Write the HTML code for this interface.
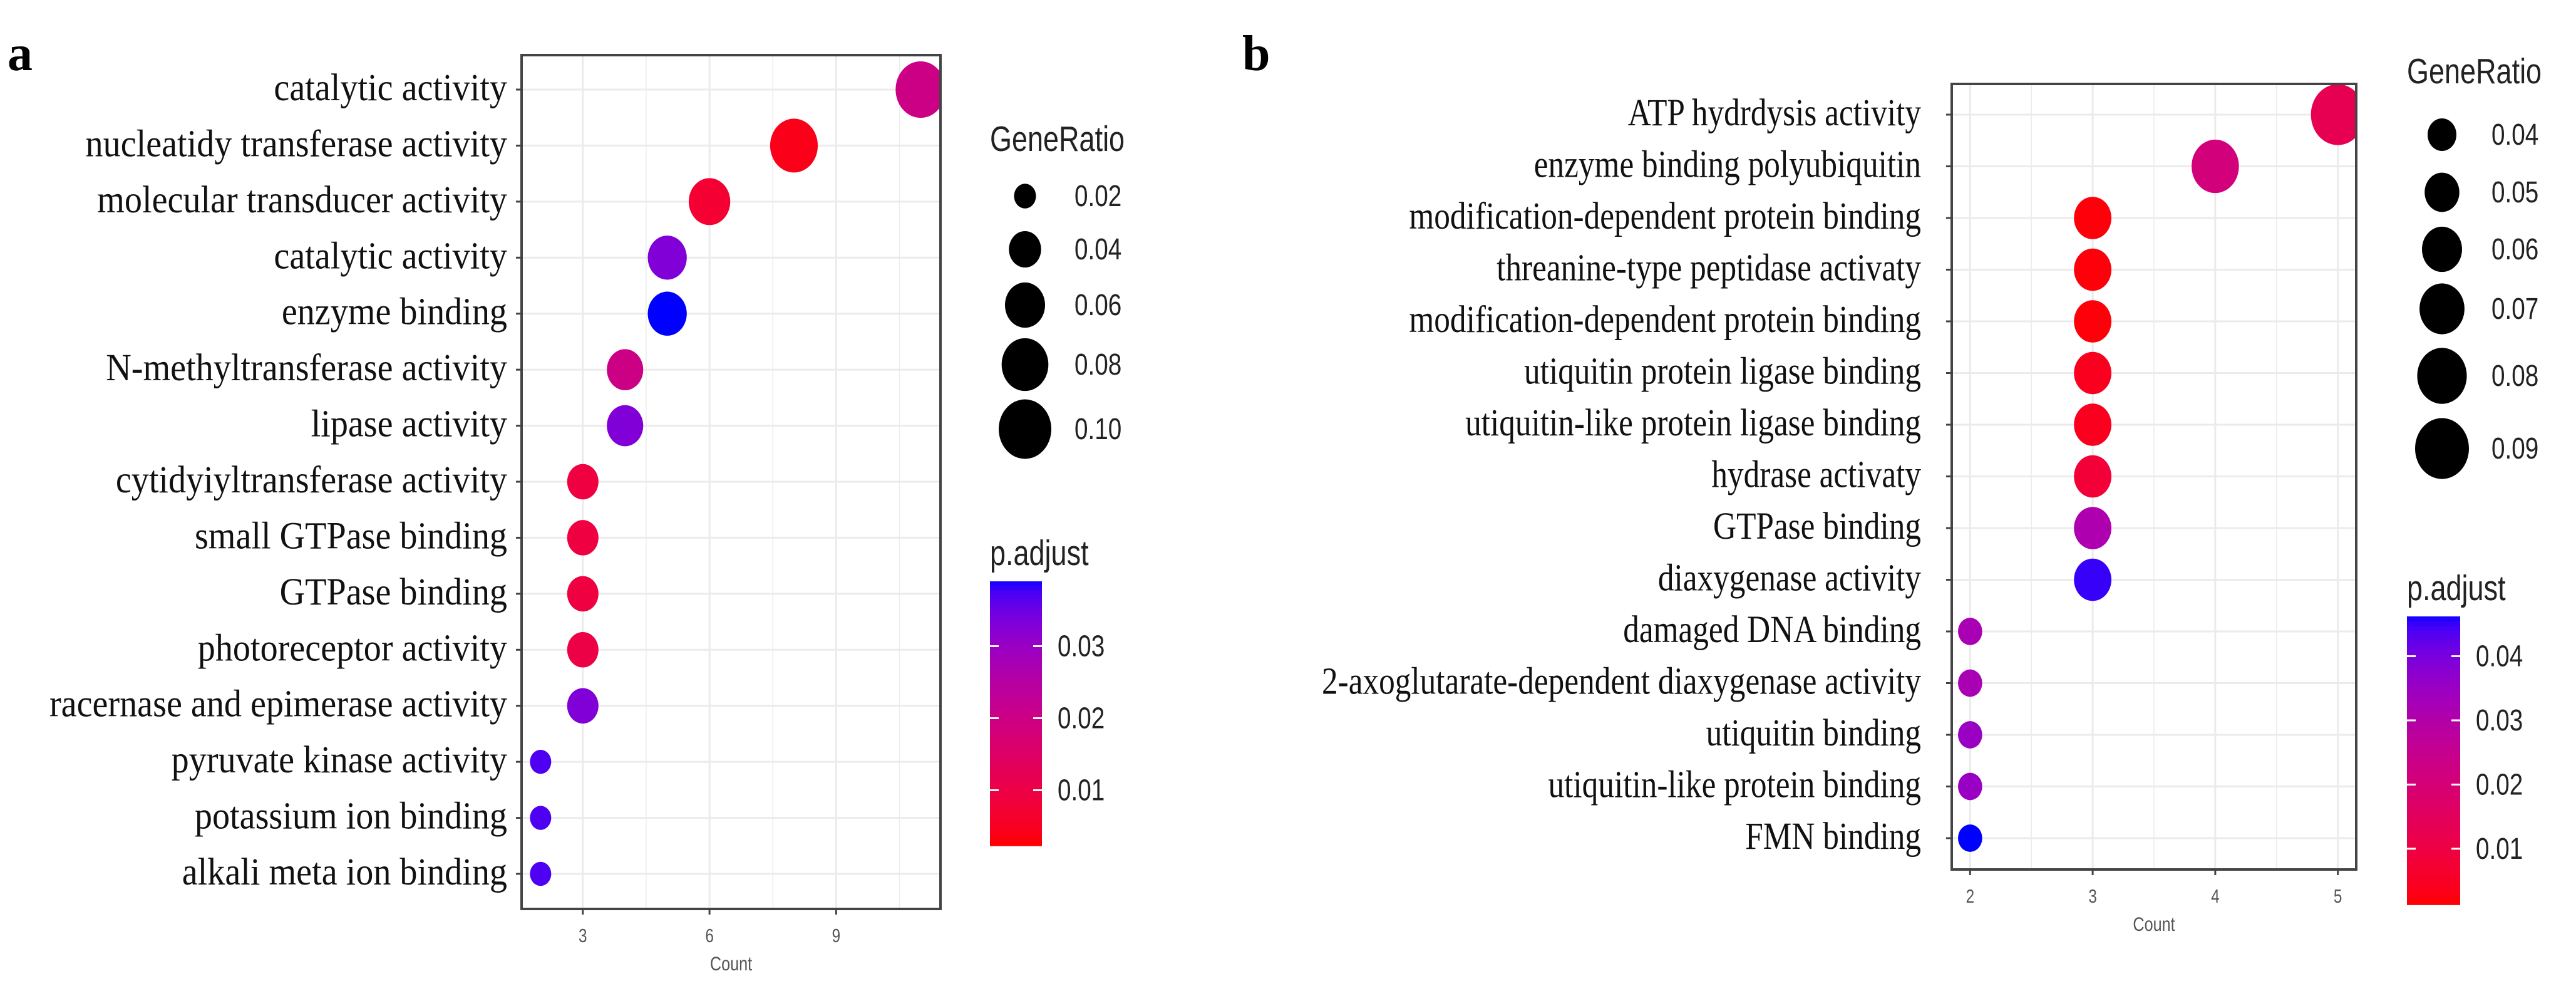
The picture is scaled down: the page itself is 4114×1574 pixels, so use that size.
<!DOCTYPE html>
<html><head><meta charset="utf-8"><style>
html,body{margin:0;padding:0;background:#fff;}
svg{display:block;}
</style></head><body>
<svg id="fig" width="4114" height="1574" viewBox="0 0 4114 1574" xmlns="http://www.w3.org/2000/svg">
<rect width="4114" height="1574" fill="#fff"/>
<text x="12" y="112" font-family="Liberation Serif, serif" font-weight="bold" font-size="80">a</text>
<text x="1984" y="112" font-family="Liberation Serif, serif" font-weight="bold" font-size="80">b</text>
<g id="pa"></g>
<g id="pb"></g>
</svg>
<script>
// ---------- Panel a data ----------
const termsA = ["catalytic activity","nucleatidy transferase activity","molecular transducer activity","catalytic activity","enzyme binding","N-methyltransferase activity","lipase activity","cytidyiyltransferase activity","small GTPase binding","GTPase binding","photoreceptor activity","racernase and epimerase activity","pyruvate kinase activity","potassium ion binding","alkali meta ion binding"];
const countA = [11,8,6,5,5,4,4,3,3,3,3,3,2,2,2];
const ratioA = [0.091,0.083,0.064,0.057,0.057,0.050,0.050,0.038,0.038,0.038,0.038,0.038,0.019,0.019,0.019];
const padjA = [0.020,0.004,0.007,0.033,0.039,0.020,0.033,0.009,0.009,0.009,0.010,0.033,0.037,0.037,0.037];
const xTicksA = [3,6,9];
const sizeLegendA = [0.02,0.04,0.06,0.08,0.10];
const colorTicksA = [0.01,0.02,0.03];
// ---------- Panel b data ----------
const termsB = ["ATP hydrdysis activity","enzyme binding polyubiquitin","modification-dependent protein binding","threanine-type peptidase activaty","modification-dependent protein binding","utiquitin protein ligase binding","utiquitin-like protein ligase binding","hydrase activaty","GTPase binding","diaxygenase activity","damaged DNA binding","2-axoglutarate-dependent diaxygenase activity","utiquitin binding","utiquitin-like protein binding","FMN binding"];
const countB = [5,4,3,3,3,3,3,3,3,3,2,2,2,2,2];
const ratioB = [0.090,0.075,0.055,0.055,0.055,0.055,0.055,0.055,0.055,0.055,0.033,0.033,0.033,0.033,0.033];
const padjB = [0.013,0.021,0.002,0.002,0.002,0.004,0.004,0.008,0.031,0.045,0.032,0.032,0.035,0.035,0.047];
const xTicksB = [2,3,4,5];
const sizeLegendB = [0.04,0.05,0.06,0.07,0.08,0.09];
const colorTicksB = [0.01,0.02,0.03,0.04];

const NS="http://www.w3.org/2000/svg";
const YS=1.13; // vertical stretch of original figure
function mk(parent,tag,attrs){const e=document.createElementNS(NS,tag);for(const k in attrs)e.setAttribute(k,attrs[k]);parent.appendChild(e);return e;}

function s2l(c){c/=255;return c<=0.04045?c/12.92:Math.pow((c+0.055)/1.055,2.4);}
function l2s(c){c=c<=0.0031308?12.92*c:1.055*Math.pow(c,1/2.4)-0.055;return Math.max(0,Math.min(255,Math.round(c*255)));}
function toLab(r,g,b){r=s2l(r);g=s2l(g);b=s2l(b);
 let X=(0.4124*r+0.3576*g+0.1805*b)/0.95047,Y=(0.2126*r+0.7152*g+0.0722*b),Z=(0.0193*r+0.1192*g+0.9505*b)/1.08883;
 const f=t=>t>0.008856?Math.cbrt(t):7.787*t+16/116;X=f(X);Y=f(Y);Z=f(Z);return [116*Y-16,500*(X-Y),200*(Y-Z)];}
function fromLab(L,a,b){let Y=(L+16)/116,X=a/500+Y,Z=Y-b/200;const fi=t=>t*t*t>0.008856?t*t*t:(t-16/116)/7.787;
 X=fi(X)*0.95047;Y=fi(Y);Z=fi(Z)*1.08883;
 const r=3.2406*X-1.5372*Y-0.4986*Z,g=-0.9689*X+1.8758*Y+0.0415*Z,bb=0.0557*X-0.2040*Y+1.0570*Z;
 return "rgb("+l2s(r)+","+l2s(g)+","+l2s(bb)+")";}
const LR=toLab(255,0,0),LB=toLab(0,0,255);
function ramp(t){t=Math.max(0,Math.min(1,t));return fromLab(LR[0]+(LB[0]-LR[0])*t,LR[1]+(LB[1]-LR[1])*t,LR[2]+(LB[2]-LR[2])*t);}

function stxt(g,x,y,sx,size,fam,fill,anchor,str,name){
 const tx=mk(g,"text",{transform:"translate("+x+","+y+") scale("+sx+","+YS+")","text-anchor":anchor,"font-family":fam,"font-size":size,fill:fill});
 tx.textContent=str;
 
 
 return tx;
}

function panel(g,cfg){
 const xs=v=>cfg.x0+(v-cfg.xmin)/(cfg.xmax-cfg.xmin)*(cfg.x1-cfg.x0);
 const ys=i=>cfg.yFirst+i*(cfg.yLast-cfg.yFirst)/(cfg.terms.length-1);
 const rs=r=>cfg.rMin+(Math.sqrt(r)-Math.sqrt(cfg.gMin))/(Math.sqrt(cfg.gMax)-Math.sqrt(cfg.gMin))*(cfg.rMax-cfg.rMin);
 const cs=p=>ramp((p-cfg.pLo)/(cfg.pHi-cfg.pLo));
 const grid=mk(g,"g",{});
 
 
 for(let v=Math.ceil(cfg.xmin/cfg.minorStep)*cfg.minorStep;v<=cfg.xmax;v+=cfg.minorStep){
  const major=cfg.xticks.some(t=>Math.abs(t-v)<1e-6);
  mk(grid,"line",{x1:xs(v),x2:xs(v),y1:cfg.y0,y2:cfg.y1,stroke:"#ebebeb","stroke-width":major?3:1.5});
 }
 cfg.terms.forEach((t,i)=>mk(grid,"line",{x1:cfg.x0,x2:cfg.x1,y1:ys(i),y2:ys(i),stroke:"#ebebeb","stroke-width":3}));
 cfg.terms.forEach((t,i)=>{
  const r=rs(cfg.ratios[i]);
  const c=mk(g,"ellipse",{cx:xs(cfg.counts[i]),cy:ys(i),rx:r,ry:r*YS,fill:cs(cfg.padj[i])});
  
  
 });
 mk(g,"rect",{x:cfg.x0,y:cfg.y0,width:cfg.x1-cfg.x0,height:cfg.y1-cfg.y0,fill:"none",stroke:"#444","stroke-width":4});
 mk(g,"rect",{x:cfg.x1+2,y:cfg.y0-60,width:cfg.legX-cfg.x1-30,height:cfg.y1-cfg.y0+120,fill:"#fff"});
 mk(g,"line",{x1:cfg.x1,x2:cfg.x1,y1:cfg.y0,y2:cfg.y1,stroke:"#444","stroke-width":4});
 cfg.terms.forEach((t,i)=>{
  mk(g,"line",{x1:cfg.x0-9,x2:cfg.x0,y1:ys(i),y2:ys(i),stroke:"#444","stroke-width":3});
  stxt(g,cfg.labelX,ys(i)+17,cfg.labelSX,cfg.labelSize,"Liberation Serif, serif","#111","end",t,'y-label-'+(i+1));
 });
 cfg.xticks.forEach(v=>{
  mk(g,"line",{x1:xs(v),x2:xs(v),y1:cfg.y1,y2:cfg.y1+9,stroke:"#444","stroke-width":3});
  stxt(g,xs(v),cfg.y1+53,0.9,27,"Liberation Sans, sans-serif","#555","middle",String(v),'x-tick-'+v);
 });
 stxt(g,(cfg.x0+cfg.x1)/2,cfg.y1+98,0.9,28,"Liberation Sans, sans-serif","#555","middle","Count",'x-axis-title');
 stxt(g,cfg.legX,cfg.grTitleY,0.9,50,"Liberation Sans, sans-serif","#222","start","GeneRatio",'size-legend-title');
 cfg.sizeLeg.forEach((v,i)=>{
  const cy=cfg.sizeYs[i];
  const r=rs(v);
  const c=mk(g,"ellipse",{cx:cfg.legDotX,cy:cy,rx:r,ry:r*YS,fill:"#000"});
  
  
  stxt(g,cfg.legDotX+79,cy+16,0.9,43,"Liberation Sans, sans-serif","#222","start",v.toFixed(2),'size-legend-label');
 });
 stxt(g,cfg.legX,cfg.barY0-26,0.9,50,"Liberation Sans, sans-serif","#222","start","p.adjust",'color-legend-title');
 const n=60,h=(cfg.barY1-cfg.barY0)/n;
 for(let k=0;k<n;k++){
  const pv=cfg.pHi-(k+0.5)/n*(cfg.pHi-cfg.pLo);
  mk(g,"rect",{x:cfg.legX,y:cfg.barY0+k*h,width:cfg.barW,height:h+0.8,fill:cs(pv)});
 }
 const bar=mk(g,"rect",{x:cfg.legX,y:cfg.barY0,width:cfg.barW,height:cfg.barY1-cfg.barY0,fill:"none"});
 
 
 const py=p=>cfg.barY1-(p-cfg.pLo)/(cfg.pHi-cfg.pLo)*(cfg.barY1-cfg.barY0);
 cfg.cTicks.forEach(p=>{
  const y=py(p);
  mk(g,"line",{x1:cfg.legX,x2:cfg.legX+14,y1:y,y2:y,stroke:"#fff","stroke-width":3});
  mk(g,"line",{x1:cfg.legX+cfg.barW-14,x2:cfg.legX+cfg.barW,y1:y,y2:y,stroke:"#fff","stroke-width":3});
  stxt(g,cfg.legX+cfg.barW+25,y+16,0.9,43,"Liberation Sans, sans-serif","#222","start",p.toFixed(2),'color-legend-label');
 });
}

panel(document.getElementById("pa"),{
 terms:termsA,counts:countA,ratios:ratioA,padj:padjA,xticks:xTicksA,minorStep:1.5,
 x0:833,x1:1502,y0:88,y1:1451,xmin:1.55,xmax:11.47,yFirst:143,yLast:1395,
 labelX:810,labelSize:54,labelSX:1.04,rMin:17.5,rMax:42,gMin:0.02,gMax:0.10,pLo:0.0023,pHi:0.039,
 legX:1581,grTitleY:241,legDotX:1637,sizeLeg:sizeLegendA,sizeYs:[313,398,487,582,685],
 barY0:928,barY1:1350,barW:83,cTicks:colorTicksA
});
panel(document.getElementById("pb"),{
 terms:termsB,counts:countB,ratios:ratioB,padj:padjB,xticks:xTicksB,minorStep:0.5,
 x0:3117,x1:3763,y0:134,y1:1388,xmin:1.85,xmax:5.15,yFirst:183,yLast:1338,
 labelX:3068,labelSize:54,labelSX:0.95,rMin:23,rMax:43,gMin:0.04,gMax:0.09,pLo:0.0013,pHi:0.0462,
 legX:3844,grTitleY:133,legDotX:3900,sizeLeg:sizeLegendB,sizeYs:[215,307,398,493,600,716],
 barY0:984,barY1:1444,barW:85,cTicks:colorTicksB
});
</script>
</body></html>
